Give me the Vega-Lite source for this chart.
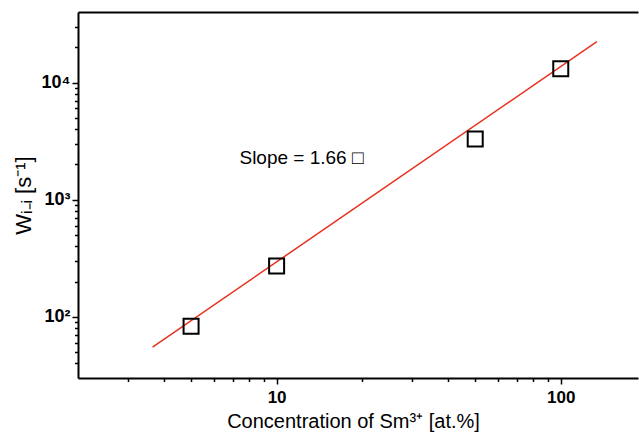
{
  "$schema": "https://vega.github.io/schema/vega-lite/v6.json",
  "width": 560,
  "height": 366,
  "autosize": "none",
  "padding": {"left": 78, "top": 12, "right": 1, "bottom": 61},
  "background": "white",
  "config": {
    "view": {"stroke": null},
    "axis": {"grid": false, "domainColor": "black", "domainWidth": 2, "tickColor": "black", "tickWidth": 1.5, "labelColor": "black", "titleColor": "black", "labelFont": "Liberation Sans", "titleFont": "Liberation Sans"}
  },
  "resolve": {"axis": {"x": "independent", "y": "independent"}},
  "layer": [
    {
      "data": {"values": [{"conc": 3.66, "w": 55}, {"conc": 134, "w": 22300}]},
      "mark": {"type": "line", "color": "#e8301e", "strokeWidth": 1.5},
      "encoding": {
        "x": {"field": "conc", "type": "quantitative", "scale": {"type": "log", "domain": [2, 187], "nice": false},
          "axis": {"orient": "bottom", "values": [10, 100], "format": "d", "tickSize": 6, "labelFontSize": 17, "labelFontWeight": "bold", "labelPadding": 5, "title": "Concentration of Sm³⁺ [at.%]", "titleFontSize": 20, "titleFontWeight": "normal", "titlePadding": 6, "titleX": 275}},
        "y": {"field": "w", "type": "quantitative", "scale": {"type": "log", "domain": [30, 40000], "nice": false},
          "axis": {"orient": "left", "values": [100, 1000, 10000], "labelExpr": "'10' + (datum.value == 100 ? '²' : datum.value == 1000 ? '³' : '⁴')", "tickSize": 6, "labelFontSize": 18, "labelFontWeight": "bold", "labelPadding": 2, "title": "Wᵢ₋ᵢ [s⁻¹]", "titleFontSize": 22, "titleFontWeight": "normal", "titlePadding": 6}}
      }
    },
    {
      "data": {"values": [{"conc": 5, "w": 83}, {"conc": 10, "w": 271}, {"conc": 50, "w": 3300}, {"conc": 100, "w": 13100}]},
      "mark": {"type": "point", "shape": "square", "size": 225, "filled": false, "stroke": "black", "strokeWidth": 2, "opacity": 1},
      "encoding": {
        "x": {"field": "conc", "type": "quantitative", "scale": {"type": "log", "domain": [2, 187], "nice": false},
          "axis": {"orient": "bottom", "values": [3, 4, 5, 6, 7, 8, 9, 20, 30, 40, 50, 60, 70, 80, 90], "labels": false, "domain": false, "tickSize": 3.5, "title": null}},
        "y": {"field": "w", "type": "quantitative", "scale": {"type": "log", "domain": [30, 40000], "nice": false},
          "axis": {"orient": "left", "values": [40, 50, 60, 70, 80, 90, 200, 300, 400, 500, 600, 700, 800, 900, 2000, 3000, 4000, 5000, 6000, 7000, 8000, 9000, 20000, 30000], "labels": false, "domain": false, "tickSize": 3.5, "title": null}}
      }
    },
    {
      "data": {"values": [{"conc": 7.4, "w": 2270, "label": "Slope = 1.66 □"}]},
      "mark": {"type": "text", "align": "left", "baseline": "middle", "font": "Liberation Sans", "fontSize": 19, "color": "black"},
      "encoding": {
        "x": {"field": "conc", "type": "quantitative", "scale": {"type": "log", "domain": [2, 187], "nice": false},
          "axis": {"orient": "top", "labels": false, "ticks": false, "title": null}},
        "y": {"field": "w", "type": "quantitative", "scale": {"type": "log", "domain": [30, 40000], "nice": false}, "axis": null},
        "text": {"field": "label"}
      }
    }
  ]
}
